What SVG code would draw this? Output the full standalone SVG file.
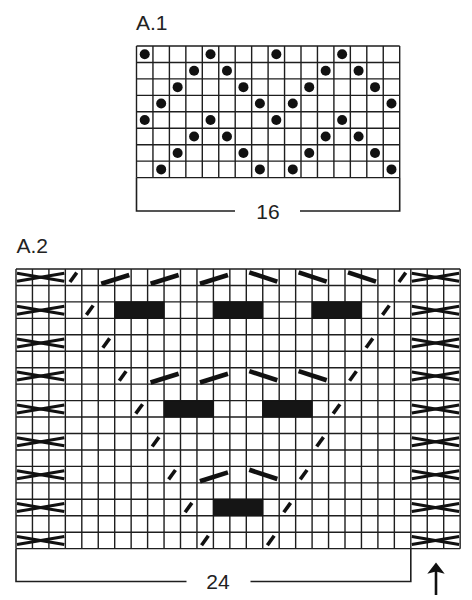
<svg xmlns="http://www.w3.org/2000/svg" xmlns:xlink="http://www.w3.org/1999/xlink" width="472" height="600" viewBox="0 0 472 600">
<style>
.t{font-family:"Liberation Sans",Arial,sans-serif;font-size:21px;fill:#222}
.g{fill:none;stroke:#1e1e1e;stroke-width:1.4}
.br{fill:none;stroke:#1e1e1e;stroke-width:1.6}
.d{fill:#111}
.k{stroke:#111;stroke-width:3.6;stroke-linecap:butt;fill:none}
.l{stroke:#111;stroke-width:4.6;stroke-linecap:butt;fill:none}
.x{stroke:#111;stroke-width:3;fill:none}
.b{fill:#151515;stroke:#151515;stroke-width:1}
</style>
<defs>
<line id="sl" class="k" x1="4.6" y1="13" x2="11.4" y2="3.6"/>
<line id="ls" class="l" x1="3" y1="14.8" x2="31" y2="6"/>
<line id="lb" class="l" x1="3" y1="3.4" x2="31" y2="12.6"/>
<rect id="bk" class="b" x="0" y="0" width="49.35" height="16.45"/>
<g id="cr"><line class="x" x1="1" y1="4.3" x2="48.3" y2="12.3"/><line class="x" x1="1" y1="12.3" x2="48.3" y2="4.3"/></g>
<circle id="dt" class="d" r="5"/>
</defs>

<g id="chart-a1">
<text class="t" x="136" y="29.5">A.1</text>
<path class="g" d="M136.5 46V177.6M152.95 46V177.6M169.4 46V177.6M185.85 46V177.6M202.3 46V177.6M218.75 46V177.6M235.2 46V177.6M251.65 46V177.6M268.1 46V177.6M284.55 46V177.6M301 46V177.6M317.45 46V177.6M333.9 46V177.6M350.35 46V177.6M366.8 46V177.6M383.25 46V177.6M399.7 46V177.6M136.5 46H399.7M136.5 62.45H399.7M136.5 78.9H399.7M136.5 95.35H399.7M136.5 111.8H399.7M136.5 128.25H399.7M136.5 144.7H399.7M136.5 161.15H399.7M136.5 177.6H399.7"/>
<g id="a1-dots">
<use xlink:href="#dt" x="144.73" y="54.23"/><use xlink:href="#dt" x="210.53" y="54.23"/><use xlink:href="#dt" x="276.33" y="54.23"/><use xlink:href="#dt" x="342.13" y="54.23"/>
<use xlink:href="#dt" x="194.08" y="70.68"/><use xlink:href="#dt" x="226.98" y="70.68"/><use xlink:href="#dt" x="325.68" y="70.68"/><use xlink:href="#dt" x="358.58" y="70.68"/>
<use xlink:href="#dt" x="177.63" y="87.13"/><use xlink:href="#dt" x="243.43" y="87.13"/><use xlink:href="#dt" x="309.23" y="87.13"/><use xlink:href="#dt" x="375.03" y="87.13"/>
<use xlink:href="#dt" x="161.18" y="103.58"/><use xlink:href="#dt" x="259.88" y="103.58"/><use xlink:href="#dt" x="292.78" y="103.58"/><use xlink:href="#dt" x="391.48" y="103.58"/>
<use xlink:href="#dt" x="144.73" y="120.03"/><use xlink:href="#dt" x="210.53" y="120.03"/><use xlink:href="#dt" x="276.33" y="120.03"/><use xlink:href="#dt" x="342.13" y="120.03"/>
<use xlink:href="#dt" x="194.08" y="136.48"/><use xlink:href="#dt" x="226.98" y="136.48"/><use xlink:href="#dt" x="325.68" y="136.48"/><use xlink:href="#dt" x="358.58" y="136.48"/>
<use xlink:href="#dt" x="177.63" y="152.93"/><use xlink:href="#dt" x="243.43" y="152.93"/><use xlink:href="#dt" x="309.23" y="152.93"/><use xlink:href="#dt" x="375.03" y="152.93"/>
<use xlink:href="#dt" x="161.18" y="169.38"/><use xlink:href="#dt" x="259.88" y="169.38"/><use xlink:href="#dt" x="292.78" y="169.38"/><use xlink:href="#dt" x="391.48" y="169.38"/>
</g>
<path class="br" d="M136.5 177.6V211H235M300 211H399.7V177.6"/>
<text class="t" x="268" y="218.5" text-anchor="middle">16</text>
</g>

<g id="chart-a2">
<text class="t" x="16.5" y="252.5">A.2</text>
<path class="g" d="M16 269V548.65M32.45 269V548.65M48.9 269V548.65M65.35 269V548.65M81.8 269V548.65M98.25 269V548.65M114.7 269V548.65M131.15 269V548.65M147.6 269V548.65M164.05 269V548.65M180.5 269V548.65M196.95 269V548.65M213.4 269V548.65M229.85 269V548.65M246.3 269V548.65M262.75 269V548.65M279.2 269V548.65M295.65 269V548.65M312.1 269V548.65M328.55 269V548.65M345 269V548.65M361.45 269V548.65M377.9 269V548.65M394.35 269V548.65M410.8 269V548.65M427.25 269V548.65M443.7 269V548.65M460.15 269V548.65M16 269H460.15M16 285.45H460.15M16 301.9H460.15M16 318.35H460.15M16 334.8H460.15M16 351.25H460.15M16 367.7H460.15M16 384.15H460.15M16 400.6H460.15M16 417.05H460.15M16 433.5H460.15M16 449.95H460.15M16 466.4H460.15M16 482.85H460.15M16 499.3H460.15M16 515.75H460.15M16 532.2H460.15M16 548.65H460.15"/>
<g id="a2-blocks">
<use xlink:href="#bk" x="114.7" y="301.9"/><use xlink:href="#bk" x="213.4" y="301.9"/><use xlink:href="#bk" x="312.1" y="301.9"/>
<use xlink:href="#bk" x="164.05" y="400.6"/><use xlink:href="#bk" x="262.75" y="400.6"/>
<use xlink:href="#bk" x="213.4" y="499.3"/>
</g>
<g id="a2-cables">
<use xlink:href="#cr" x="16" y="269"/><use xlink:href="#cr" x="410.8" y="269"/>
<use xlink:href="#cr" x="16" y="301.9"/><use xlink:href="#cr" x="410.8" y="301.9"/>
<use xlink:href="#cr" x="16" y="334.8"/><use xlink:href="#cr" x="410.8" y="334.8"/>
<use xlink:href="#cr" x="16" y="367.7"/><use xlink:href="#cr" x="410.8" y="367.7"/>
<use xlink:href="#cr" x="16" y="400.6"/><use xlink:href="#cr" x="410.8" y="400.6"/>
<use xlink:href="#cr" x="16" y="433.5"/><use xlink:href="#cr" x="410.8" y="433.5"/>
<use xlink:href="#cr" x="16" y="466.4"/><use xlink:href="#cr" x="410.8" y="466.4"/>
<use xlink:href="#cr" x="16" y="499.3"/><use xlink:href="#cr" x="410.8" y="499.3"/>
<use xlink:href="#cr" x="16" y="532.2"/><use xlink:href="#cr" x="410.8" y="532.2"/>
</g>
<g id="a2-slashes">
<use xlink:href="#sl" x="65.35" y="269"/><use xlink:href="#sl" x="394.35" y="269"/>
<use xlink:href="#sl" x="81.8" y="301.9"/><use xlink:href="#sl" x="377.9" y="301.9"/>
<use xlink:href="#sl" x="98.25" y="334.8"/><use xlink:href="#sl" x="361.45" y="334.8"/>
<use xlink:href="#sl" x="114.7" y="367.7"/><use xlink:href="#sl" x="345" y="367.7"/>
<use xlink:href="#sl" x="131.15" y="400.6"/><use xlink:href="#sl" x="328.55" y="400.6"/>
<use xlink:href="#sl" x="147.6" y="433.5"/><use xlink:href="#sl" x="312.1" y="433.5"/>
<use xlink:href="#sl" x="164.05" y="466.4"/><use xlink:href="#sl" x="295.65" y="466.4"/>
<use xlink:href="#sl" x="180.5" y="499.3"/><use xlink:href="#sl" x="279.2" y="499.3"/>
<use xlink:href="#sl" x="196.95" y="532.2"/><use xlink:href="#sl" x="262.75" y="532.2"/>
<use xlink:href="#ls" x="98.25" y="269"/><use xlink:href="#ls" x="147.6" y="269"/><use xlink:href="#ls" x="196.95" y="269"/>
<use xlink:href="#lb" x="246.3" y="269"/><use xlink:href="#lb" x="295.65" y="269"/><use xlink:href="#lb" x="345" y="269"/>
<use xlink:href="#ls" x="147.6" y="367.7"/><use xlink:href="#ls" x="196.95" y="367.7"/>
<use xlink:href="#lb" x="246.3" y="367.7"/><use xlink:href="#lb" x="295.65" y="367.7"/>
<use xlink:href="#ls" x="196.95" y="466.4"/>
<use xlink:href="#lb" x="246.3" y="466.4"/>
</g>
<path class="br" d="M16 548.65V581.5H186.5M250.5 581.5H410.8V548.65"/>
<text class="t" x="218" y="589" text-anchor="middle">24</text>
<g id="arrow">
<line x1="436" y1="571" x2="436" y2="595" stroke="#111" stroke-width="2.6"/>
<polygon points="427.3,573.8 436,562.6 444.7,573.8 436,571.6" fill="#111"/>
</g>
</g>
</svg>
